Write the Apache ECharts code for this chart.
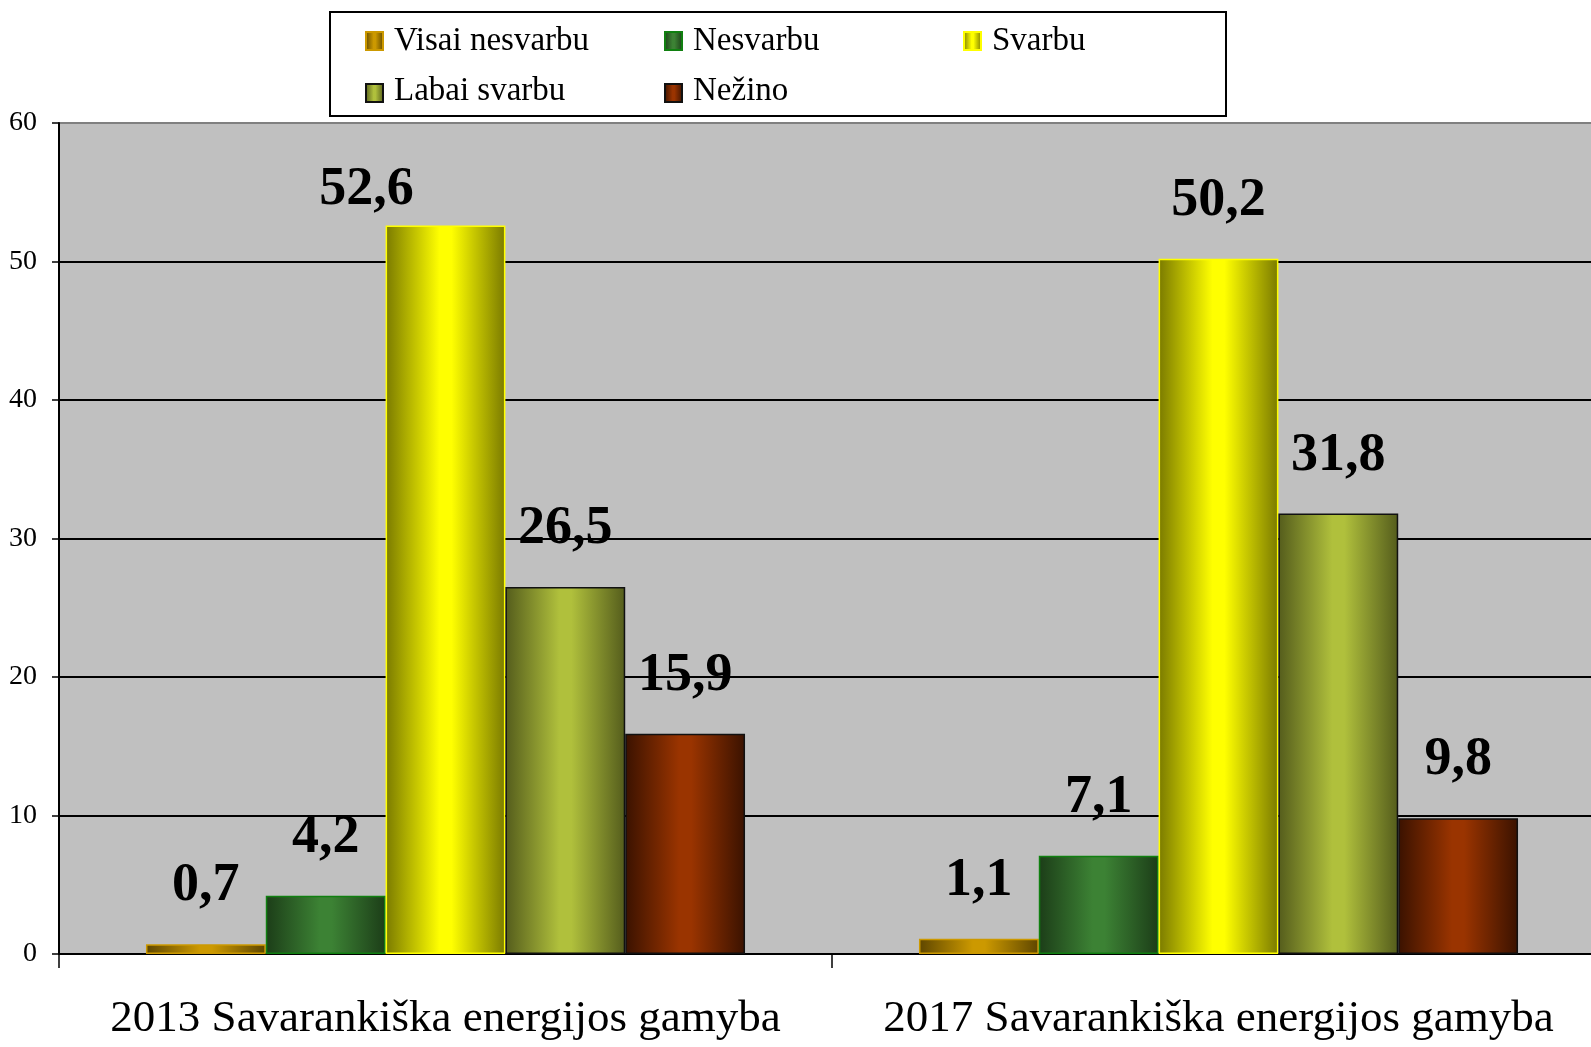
<!DOCTYPE html>
<html>
<head>
<meta charset="utf-8">
<script src="https://cdn.jsdelivr.net/npm/echarts@6/dist/echarts.min.js"></script>
<style>
    html, body { margin: 0; padding: 0; background: #fff; }
    #main { width: 1591px; height: 1047px; }
</style>
</head>
<body>
<div id="main"></div>
<script>
    // data
    var categories = ['2013 Savarankiška energijos gamyba', '2017 Savarankiška energijos gamyba'];
    var seriesNames = ['Visai nesvarbu', 'Nesvarbu', 'Svarbu', 'Labai svarbu', 'Nežino'];
    var visaiNesvarbu = [0.7, 1.1];
    var nesvarbu = [4.2, 7.1];
    var svarbu = [52.6, 50.2];
    var labaiSvarbu = [26.5, 31.8];
    var nezino = [15.9, 9.8];

    var serif = 'Liberation Serif';

    // cylinder-like shading: dark edges, bright middle
    function shade(dark, light) {
        return new echarts.graphic.LinearGradient(0, 0, 1, 0, [
            { offset: 0, color: dark },
            { offset: 0.45, color: light },
            { offset: 0.55, color: light },
            { offset: 1, color: dark }
        ]);
    }

    var styles = [
        { fill: shade('#5e4600', '#cc9900'), border: '#cc9900' },
        { fill: shade('#1c3d18', '#3c8234'), border: '#108010' },
        { fill: shade('#7a7a00', '#ffff00'), border: '#ffff00' },
        { fill: shade('#545c1c', '#b0c03c'), border: '#111111' },
        { fill: shade('#3a1200', '#9a3400'), border: '#111111' }
    ];
    var values = [visaiNesvarbu, nesvarbu, svarbu, labaiSvarbu, nezino];

    var series = seriesNames.map(function(name, i) {
        return {
            name: name,
            type: 'bar',
            barGap: 0,
            barCategoryGap: '22.5%',
            itemStyle: {
                color: styles[i].fill,
                borderColor: styles[i].border,
                borderWidth: 1.5
            },
            label: {
                show: true,
                position: 'top',
                distance: 31,
                fontFamily: serif,
                fontWeight: 'bold',
                fontSize: 54,
                lineHeight: 54,
                color: '#000',
                formatter: function(p) {
                    return String(p.value).replace('.', ',');
                }
            },
            data: values[i].map(function(v, j) {
                // 52,6 label sits to the left of its bar in the original
                if (i === 2 && j === 0) {
                    return { value: v, label: { offset: [-79, 23] } };
                }
                return v;
            })
        };
    });

    // legend: icons from the legend component, names as serif text
    var legendCols = [[365, ['Visai nesvarbu', 'Labai svarbu']], [664, ['Nesvarbu', 'Nežino']], [963, ['Svarbu']]];
    var rowY = [41, 91];

    var legends = legendCols.map(function(c) {
        return {
            orient: 'vertical',
            left: c[0],
            top: 31,
            padding: 0,
            icon: 'rect',
            itemWidth: 17,
            itemHeight: 18,
            itemGap: 32,
            data: c[1],
            formatter: function() { return ''; },
            textStyle: { fontSize: 1, lineHeight: 1 }
        };
    });

    var graphics = [{
        type: 'rect',
        shape: { x: 330, y: 12, width: 896, height: 104 },
        style: { fill: 'none', stroke: '#000', lineWidth: 2 },
        z: 100
    }];
    legendCols.forEach(function(c) {
        c[1].forEach(function(name, r) {
            graphics.push({
                type: 'text',
                x: c[0] + 29,
                y: rowY[r],
                style: {
                    text: name,
                    fontFamily: serif,
                    fontSize: 33,
                    fill: '#000',
                    verticalAlign: 'middle'
                },
                z: 100
            });
        });
    });

    var myChart = echarts.init(document.getElementById('main'));
    var option = {
        backgroundColor: '#fff',
        animation: false,
        textStyle: { fontFamily: serif },
        legend: legends,
        graphic: graphics,
        grid: {
            left: 59,
            width: 1546,
            top: 123,
            bottom: 93,
            outerBoundsMode: 'none',
            containLabel: false,
            show: true,
            backgroundColor: '#c0c0c0',
            borderWidth: 0
        },
        xAxis: {
            type: 'category',
            data: categories,
            axisLine: { lineStyle: { color: '#000', width: 2 } },
            axisTick: { show: true, length: 14, lineStyle: { color: '#000', width: 1.5 } },
            axisLabel: {
                interval: 0,
                hideOverlap: false,
                fontFamily: serif,
                fontSize: 45,
                color: '#000',
                margin: 43
            }
        },
        yAxis: {
            type: 'value',
            min: 0,
            max: 60,
            interval: 10,
            axisLine: { show: true, lineStyle: { color: '#000', width: 2 } },
            axisTick: { show: true, length: 7, lineStyle: { color: '#000', width: 1.5 } },
            axisLabel: {
                fontFamily: serif,
                fontSize: 28,
                color: '#000',
                margin: 22
            },
            splitLine: {
                lineStyle: {
                    color: ['#000', '#000', '#000', '#000', '#000', '#000', '#808080'],
                    width: 2
                }
            }
        },
        series: series
    };
    myChart.setOption(option);
</script>
</body>
</html>
